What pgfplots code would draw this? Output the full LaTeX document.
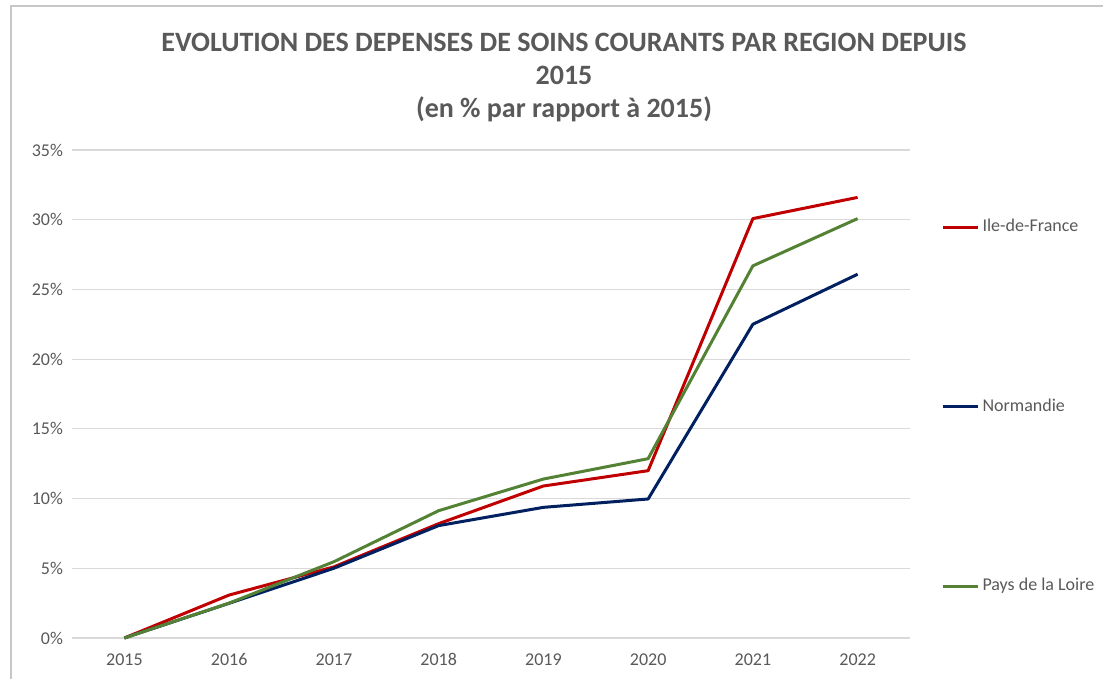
\documentclass[border=0pt]{standalone}
\usepackage{pgfplots}
\pgfplotsset{compat=1.18}
\usepackage{fontspec}
\setmainfont{Carlito}

\definecolor{txtgray}{HTML}{595959}
\definecolor{gridgray}{HTML}{D9D9D9}
\definecolor{idf}{HTML}{C00000}
\definecolor{norm}{HTML}{002060}
\definecolor{pdl}{HTML}{548235}

% 1 px of the reference = 0.5pt
\begin{document}
\begin{tikzpicture}
\path[use as bounding box] (0,0) rectangle (551.5pt,339.5pt);
\begin{scope}
  \clip (0,0) rectangle (551.5pt,339.5pt);
  \draw[gridgray!80!gray, line width=0.6pt] (5.5pt,336.5pt) rectangle (580pt,-20pt);
\end{scope}

\node[font=\bfseries\fontsize{14}{16.5}\selectfont, text=txtgray, align=center]
  at (282pt,300.5pt) {EVOLUTION DES DEPENSES DE SOINS COURANTS PAR REGION DEPUIS\\2015\\(en \% par rapport à 2015)};

\begin{axis}[
    at={(36pt,20.5pt)}, anchor=south west,
    width=419pt, height=244pt,
    scale only axis,
    xmin=-0.5, xmax=7.5,
    ymin=0, ymax=35,
    xtick={0,...,7},
    xticklabels={2015,2016,2017,2018,2019,2020,2021,2022},
    ytick={0,5,...,35},
    yticklabel={\pgfmathprintnumber{\tick}\%},
    ymajorgrids,
    grid style={gridgray, line width=0.6pt},
    axis line style={draw=none},
    major tick length=0pt,
    tick label style={font=\fontsize{9}{11}\selectfont, text=txtgray},
    xticklabel style={yshift=-3.5pt, text height=6.5pt, text depth=0pt},
    yticklabel style={xshift=-1pt},
    /pgf/number format/assume math mode=true,
    clip=false,
    legend style={
        draw=none, fill=none,
        at={(1.03,0.875)}, anchor=north west,
        font=\fontsize{9}{11}\selectfont, text=txtgray,
        row sep=78pt,
        legend cell align=left,
        nodes={inner xsep=1.5pt},
    },
    legend image code/.code={\draw[#1] (0pt,0pt) -- (17.5pt,0pt);},
    every axis plot/.append style={line width=1.5pt, line join=round},
]
\addplot[idf] coordinates {
    (0,0) (1,3.08) (2,5.1) (3,8.2) (4,10.9) (5,12.0) (6,30.08) (7,31.6)
};
\addplot[norm] coordinates {
    (0,0) (1,2.49) (2,5.0) (3,8.06) (4,9.37) (5,9.97) (6,22.5) (7,26.09)
};
\addplot[pdl] coordinates {
    (0,0) (1,2.5) (2,5.47) (3,9.13) (4,11.4) (5,12.86) (6,26.69) (7,30.08)
};
\legend{Ile-de-France, Normandie, Pays de la Loire}
\end{axis}
\end{tikzpicture}
\end{document}
